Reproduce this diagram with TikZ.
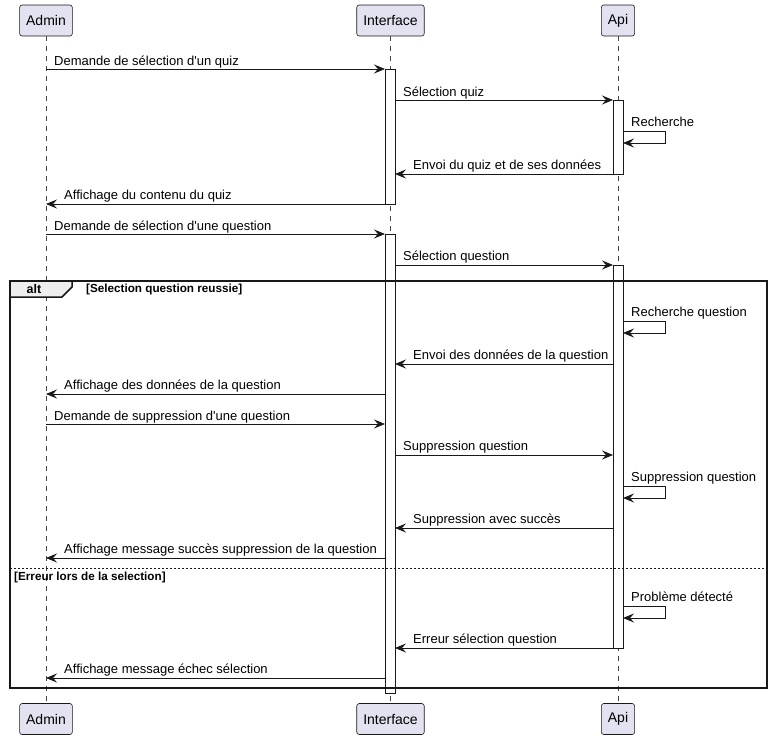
\documentclass[tikz,border=0pt]{standalone}
\usepackage{fontspec}
\setmainfont{Liberation Sans}
\usetikzlibrary{arrows.meta}
\definecolor{partfill}{HTML}{E2E2F0}
\definecolor{ink}{HTML}{181818}
\definecolor{tabfill}{HTML}{EEEEEE}
\newcommand{\sq}{\textquotesingle}
\tikzset{
  part/.style={draw=ink, fill=partfill, rounded corners=2.5pt, minimum height=31pt, inner xsep=6.5pt, font=\fontsize{14}{16}\selectfont, line width=0.6pt},
  life/.style={draw=ink!80, dash pattern=on 5pt off 5pt, line width=0.5pt},
  actbar/.style={draw=ink, fill=white, line width=0.8pt},
  msg/.style={draw=ink, line width=0.8pt, -{Stealth[length=11pt,width=9pt,inset=4pt]}},
  lbl/.style={anchor=base west, inner sep=0pt, font=\fontsize{13}{15}\selectfont},
  guard/.style={anchor=base west, inner sep=0pt, font=\bfseries\fontsize{11.7}{13}\selectfont},
}
\begin{document}
\begin{tikzpicture}[x=1pt,y=-1pt]
\useasboundingbox (0,0) rectangle (773,739);
% participants
\node[part] (admT) at (46,20.5) {Admin};
\node[part] (ifT) at (390.5,20.5) {Interface};
\node[part] (apiT) at (618,20.5) {Api};
\node[part] (admB) at (46,719) {Admin};
\node[part] (ifB) at (390.5,719) {Interface};
\node[part] (apiB) at (618,719) {Api};
% lifelines
\draw[life] (admT.south) -- (admB.north);
\draw[life] (ifT.south) -- (ifB.north);
\draw[life] (apiT.south) -- (apiB.north);
% activation bars
\draw[actbar] (385,69) rectangle (395,204);
\draw[actbar] (385,234) rectangle (395,693);
\draw[actbar] (613,100) rectangle (623,174);
\draw[actbar] (613,265) rectangle (623,648);
% alt frame
\coordinate (fTL) at (10,281);
\coordinate (fBR) at (767,688);
\draw[draw=ink, line width=1.5pt] (fTL) rectangle (fBR);
\draw[draw=ink, line width=1.5pt, fill=tabfill] (10,281) -- (72,281) -- (72,287) -- (62,297) -- (10,297) -- cycle;
\node[anchor=base, inner sep=0pt, font=\bfseries\fontsize{12.5}{14}\selectfont] (altlbl) at (34,293.5) {alt};
\node[guard] (g1) at (86,292.5) {[Selection question reussie]};
\draw[draw=ink, line width=0.8pt, dash pattern=on 2pt off 2pt] (10,568) -- (767,568);
\node[guard] (g2) at (14,580.5) {[Erreur lors de la selection]};
% messages
\draw[msg] (admT |- 0,69) -- (385,69);
\node[lbl] (m1) at (54,65) {Demande de sélection d\sq un quiz};
\draw[msg] (395,100) -- (613,100);
\node[lbl] (m2) at (403,96) {Sélection quiz};
\draw[msg] (623,131) -- (665,131) -- (665,143) -- (623,143);
\node[lbl] (m3) at (631,126) {Recherche};
\draw[msg] (613,174) -- (395,174);
\node[lbl] (m4) at (413,169.5) {Envoi du quiz et de ses données};
\draw[msg] (385,204) -- (admT |- 0,204);
\node[lbl] (m5) at (64,199.5) {Affichage du contenu du quiz};
\draw[msg] (admT |- 0,234) -- (385,234);
\node[lbl] (m6) at (54,230) {Demande de sélection d\sq une question};
\draw[msg] (395,265) -- (613,265);
\node[lbl] (m7) at (403,260) {Sélection question};
\draw[msg] (623,321) -- (665,321) -- (665,333) -- (623,333);
\node[lbl] (m8) at (631,316) {Recherche question};
\draw[msg] (613,364) -- (395,364);
\node[lbl] (m9) at (413,359) {Envoi des données de la question};
\draw[msg] (385,394) -- (admT |- 0,394);
\node[lbl] (m10) at (64,389.5) {Affichage des données de la question};
\draw[msg] (admT |- 0,424) -- (385,424);
\node[lbl] (m11) at (54,420) {Demande de suppression d\sq une question};
\draw[msg] (395,455) -- (613,455);
\node[lbl] (m12) at (403,450) {Suppression question};
\draw[msg] (623,486) -- (665,486) -- (665,498) -- (623,498);
\node[lbl] (m13) at (631,481) {Suppression question};
\draw[msg] (613,528) -- (395,528);
\node[lbl] (m14) at (413,523.5) {Suppression avec succès};
\draw[msg] (385,558) -- (admT |- 0,558);
\node[lbl] (m15) at (64,553.5) {Affichage message succès suppression de la question};
\draw[msg] (623,606) -- (665,606) -- (665,618) -- (623,618);
\node[lbl] (m16) at (631,601) {Problème détecté};
\draw[msg] (613,648) -- (395,648);
\node[lbl] (m17) at (413,643.5) {Erreur sélection question};
\draw[msg] (385,678) -- (admT |- 0,678);
\node[lbl] (m18) at (64,673.5) {Affichage message échec sélection};
\end{tikzpicture}
\end{document}
